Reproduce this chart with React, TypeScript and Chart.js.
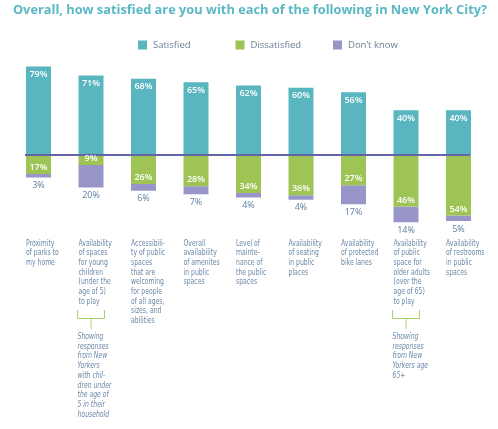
import React, { useEffect, useRef } from 'react';
import { Chart, registerables } from 'chart.js';
Chart.register(...registerables);

const TITLE = 'Overall, how satisfied are you with each of the following in New York City?';
const seriesNames = ['Satisfied', 'Dissatisfied', 'Don\u2019t know'];
const categories: string[][] = [
  ['Proximity', 'of parks to', 'my home'],
  ['Availability', 'of spaces', 'for young', 'children', '(under the', 'age of 5)', 'to play'],
  ['Accessibili-', 'ty of public', 'spaces', 'that are', 'welcoming', 'for people', 'of all ages,', 'sizes, and', 'abilities'],
  ['Overall', 'availability', 'of amenites', 'in public', 'spaces'],
  ['Level of', 'mainte-', 'nance of', 'the public', 'spaces'],
  ['Availability', 'of seating', 'in public', 'places'],
  ['Availability', 'of protected', 'bike lanes'],
  ['Availability', 'of public', 'space for', 'older adults', '(over the', 'age of 65)', 'to play'],
  ['Availability', 'of restrooms', 'in public', 'spaces'],
];
const satisfied = [79, 71, 68, 65, 62, 60, 56, 40, 40];
const dissatisfied = [17, 9, 26, 28, 34, 36, 27, 46, 54];
const dontKnow = [3, 20, 6, 7, 4, 4, 17, 14, 5];
const noteIndex = [1, 7];
const noteLines: string[][] = [
  ['Showing', 'responses', 'from New', 'Yorkers', 'with chil-', 'dren under', 'the age of', '5 in their', 'household'],
  ['Showing', 'responses', 'from New', 'Yorkers age', '65+'],
];

const COLORS = ['#59b5bf', '#9dc454', '#9896c8'];
const LINE = '#6165a8';
const TEXT = '#6a88a8';
const LABEL_FONT = '"Liberation Sans Narrow", "DejaVu Sans Condensed", sans-serif';

function narrowText(ctx: CanvasRenderingContext2D, t: string, x: number, y: number, sx: number) {
  ctx.save();
  ctx.translate(x, y);
  ctx.scale(sx, 1);
  ctx.fillText(t, 0, 0);
  ctx.restore();
}

const drawPlugin = {
  id: 'custom',
  afterDatasetsDraw(chart: any) {
    const ctx = chart.ctx as CanvasRenderingContext2D;
    const m0 = chart.getDatasetMeta(0).data;
    const m1 = chart.getDatasetMeta(1).data;
    const m2 = chart.getDatasetMeta(2).data;
    const y0 = chart.scales.y.getPixelForValue(0);
    ctx.save();
    // baseline
    const first = m0[0], last = m0[m0.length - 1];
    ctx.strokeStyle = LINE;
    ctx.lineWidth = 2;
    ctx.beginPath();
    ctx.moveTo(first.x - first.width / 2 - 1, y0);
    ctx.lineTo(last.x + last.width / 2 - 1, y0);
    ctx.stroke();

    ctx.textAlign = 'center';
    ctx.textBaseline = 'middle';
    for (let i = 0; i < m0.length; i++) {
      const b0 = m0[i], b1 = m1[i], b2 = m2[i];
      ctx.font = '600 9px "Open Sans", sans-serif';
      ctx.fillStyle = '#ffffff';
      ctx.fillText(satisfied[i] + '%', b0.x, b0.y + 8);
      ctx.fillText(dissatisfied[i] + '%', b1.x, b1.y - 6.5);
      ctx.fillStyle = '#5f7f9f';
      ctx.font = '9px "Open Sans", sans-serif';
      ctx.fillText(dontKnow[i] + '%', b2.x, b2.y + 8);
    }

    // category labels
    ctx.textAlign = 'left';
    ctx.fillStyle = TEXT;
    ctx.font = '8px ' + LABEL_FONT;
    const labTop = 243.5;
    const lh = 9.7;
    const sx = 0.85;
    for (let i = 0; i < m0.length; i++) {
      const b = m0[i];
      const lx = b.x - b.width / 2;
      categories[i].forEach((t, k) => narrowText(ctx, t, lx, labTop + k * lh, sx));
    }
    // brackets + notes
    noteIndex.forEach((ci, n) => {
      const b = m0[ci];
      const l = b.x - b.width / 2 - 1, r = b.x + b.width / 2 + 1;
      ctx.strokeStyle = '#a9d26a';
      ctx.lineWidth = 1;
      ctx.beginPath();
      ctx.moveTo(l, 310); ctx.lineTo(l, 318.5); ctx.lineTo(r, 318.5); ctx.lineTo(r, 310);
      ctx.moveTo((l + r) / 2, 318.5); ctx.lineTo((l + r) / 2, 329);
      ctx.stroke();
      ctx.fillStyle = TEXT;
      ctx.font = 'italic 8px ' + LABEL_FONT;
      noteLines[n].forEach((t, k) => narrowText(ctx, t, l, 337 + k * lh, sx));
    });

    // title
    ctx.textAlign = 'center';
    ctx.fillStyle = '#5ab8c4';
    ctx.font = 'bold 12.8px "Open Sans", sans-serif';
    ctx.fillText(TITLE, 250, 10.5);

    // legend
    ctx.textAlign = 'left';
    ctx.font = '9.5px "Open Sans", sans-serif';
    const ds = chart.data.datasets;
    ds.forEach((d: any, k: number) => {
      const x = 138 + k * 97.5;
      ctx.fillStyle = d.backgroundColor;
      ctx.fillRect(x, 40.5, 9, 9);
      ctx.fillStyle = '#6b7f95';
      ctx.fillText(d.label, x + 15, 45);
    });
    ctx.restore();
  },
};

export default function App() {
  const ref = useRef<HTMLCanvasElement>(null);
  useEffect(() => {
    document.body.style.margin = '0';
    const chart = new Chart(ref.current!, {
      type: 'bar',
      data: {
        labels: categories.map((c) => c.join(' ')),
        datasets: [
          { label: seriesNames[0], data: satisfied, backgroundColor: COLORS[0] },
          { label: seriesNames[1], data: dissatisfied.map((v) => -v), backgroundColor: COLORS[1] },
          { label: seriesNames[2], data: dontKnow.map((v) => -v), backgroundColor: COLORS[2] },
        ],
      },
      options: {
        animation: false,
        responsive: false,
        layout: { padding: { left: 12.25, right: 13.25, top: 54.2, bottom: 184.4 } },
        plugins: { legend: { display: false }, title: { display: false }, tooltip: { enabled: false } },
        datasets: { bar: { categoryPercentage: 1, barPercentage: 0.476 } },
        scales: {
          x: { stacked: true, display: false },
          y: { stacked: true, display: false, min: -80, max: 90 },
        },
      },
      plugins: [drawPlugin],
    });
    return () => chart.destroy();
  }, []);
  return (
    <div style={{ width: 498, height: 429, background: '#fff' }}>
      <canvas ref={ref} width={498} height={429} style={{ display: 'block' }} />
    </div>
  );
}
